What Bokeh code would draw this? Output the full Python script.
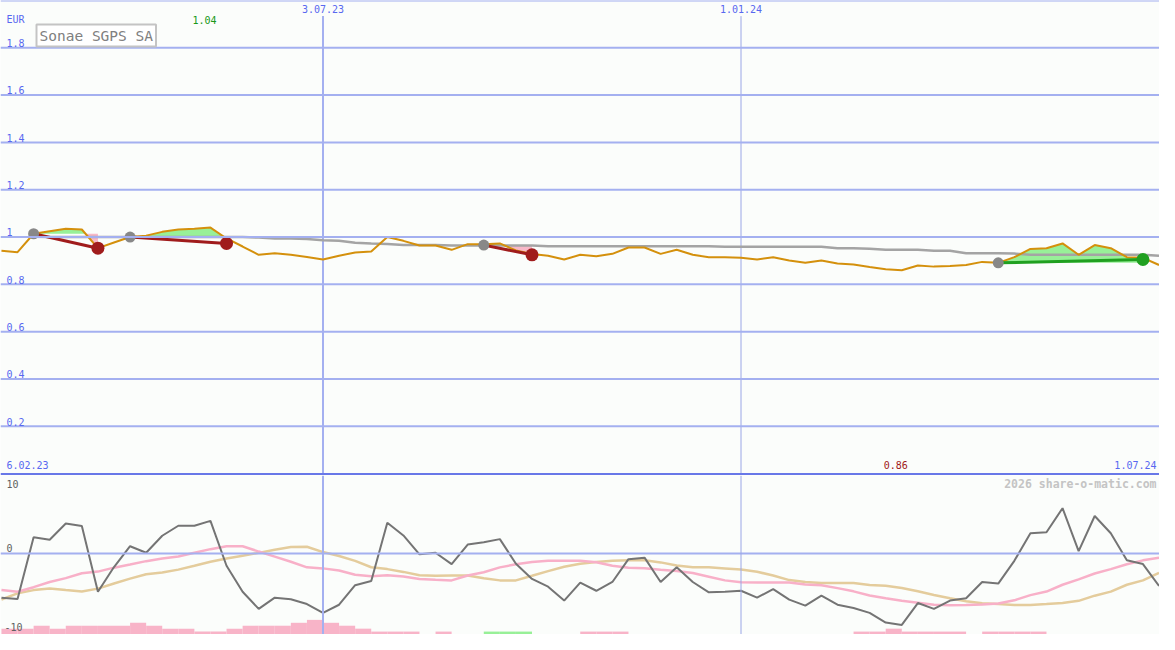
import numpy as np
import pandas as pd
from bokeh.plotting import figure
from bokeh.layouts import column
from bokeh.models import Range1d, Span, Label
from bokeh.embed import file_html
from bokeh.resources import INLINE

# ---------------- data ----------------
weeks = pd.date_range("2023-02-13", periods=73, freq="7D")

price = [0.942, 0.936, 1.014, 1.025, 1.035, 1.032, 0.953, 0.977, 1.000, 1.006,
         1.022, 1.032, 1.035, 1.040, 0.994, 0.960, 0.925, 0.932, 0.925, 0.916,
         0.905, 0.921, 0.935, 0.939, 1.000, 0.984, 0.964, 0.964, 0.946, 0.970,
         0.970, 0.973, 0.943, 0.928, 0.921, 0.905, 0.925, 0.919, 0.929, 0.956,
         0.956, 0.929, 0.946, 0.925, 0.915, 0.915, 0.913, 0.905, 0.915, 0.901,
         0.891, 0.901, 0.888, 0.884, 0.873, 0.864, 0.860, 0.880, 0.875, 0.878,
         0.882, 0.895, 0.891, 0.915, 0.950, 0.953, 0.973, 0.925, 0.966, 0.953,
         0.915, 0.912, 0.882]

# long moving average, starts at week index 2
ma_long = [1.001, 1.0, 1.0, 1.0, 1.0, 1.0, 1.0, 1.0, 1.0, 1.0, 1.0, 1.0, 1.0, 1.0,
           0.998, 0.994, 0.994, 0.992, 0.987, 0.984, 0.976, 0.973, 0.971, 0.966,
           0.966, 0.966, 0.964, 0.964, 0.964, 0.964, 0.964, 0.964,
           0.961, 0.961, 0.961, 0.961, 0.961, 0.961, 0.961, 0.961, 0.961, 0.961, 0.961,
           0.959, 0.959, 0.959, 0.959, 0.959, 0.959, 0.959,
           0.953, 0.953, 0.951, 0.946, 0.946, 0.946, 0.942, 0.942, 0.932, 0.932,
           0.932, 0.930, 0.925, 0.925, 0.925, 0.925, 0.925, 0.925, 0.925, 0.925,
           0.921]

# trades
entry_idx = [2, 8, 30, 62]
exit_idx = [6, 14, 33, 71]
entry_val = [1.014, 1.000, 0.966, 0.891]
exit_val = [0.953, 0.973, 0.925, 0.905]

# lower panel
momentum = [-6.03, -6.2, 2.24, 1.89, 4.11, 3.76, -5.23, -1.85, 1.0, 0.11,
            2.43, 3.8, 3.8, 4.47, -1.67, -5.23, -7.57, -6.03, -6.24, -6.91,
            -8.11, -7.0, -4.33, -3.76, 4.2, 2.47, -0.11, 0.11, -1.44, 1.23,
            1.53, 1.97, -1.4, -3.47, -4.53, -6.43, -3.97, -5.09, -3.89, -0.77,
            -0.56, -3.89, -1.89, -3.89, -5.31, -5.23, -5.09, -6.03, -4.87, -6.3,
            -7.13, -5.76, -7.0, -7.44, -8.11, -9.44, -9.76, -6.77, -7.57, -6.43,
            -6.11, -3.89, -4.11, -1.0, 2.77, 2.91, 6.2, 0.33, 5.13, 2.77,
            -0.91, -1.44, -4.43]

sig_pink = [-5.0, -5.23, -4.6, -3.89, -3.36, -2.69, -2.47, -1.93, -1.49, -1.04,
            -0.69, -0.4, 0.11, 0.6, 1.0, 1.0, 0.27, -0.43, -1.13, -1.89,
            -2.03, -2.33, -2.91, -3.09, -2.96, -3.13, -3.47, -3.6, -3.67, -3.0,
            -2.56, -1.89, -1.47, -1.16, -1.0, -1.0, -1.0, -1.19, -1.67, -1.93,
            -2.0, -2.23, -2.4, -2.67, -3.17, -3.67, -3.93, -3.97, -3.97, -3.97,
            -4.24, -4.33, -4.73, -5.17, -5.73, -6.12, -6.47, -6.73, -7.0, -7.07,
            -7.04, -6.96, -6.84, -6.4, -5.69, -5.2, -4.27, -3.53, -2.73, -2.13,
            -1.47, -0.93, -0.56]

sig_tan = [-6.29, -5.44, -5.0, -4.77, -5.0, -5.2, -4.8, -4.09, -3.43, -2.84,
           -2.6, -2.2, -1.67, -1.13, -0.67, -0.29, 0.09, 0.53, 0.89, 0.93,
           0.2, -0.33, -1.0, -1.87, -2.13, -2.51, -2.96, -3.04, -3.0, -3.0,
           -3.37, -3.67, -3.67, -3.04, -2.4, -1.8, -1.4, -1.17, -1.0, -0.93,
           -0.92, -1.21, -1.63, -1.89, -1.89, -2.04, -2.19, -2.49, -3.0, -3.63,
           -3.89, -4.03, -4.03, -4.03, -4.31, -4.41, -4.72, -5.16, -5.67, -6.11,
           -6.51, -6.81, -6.91, -7.03, -7.04, -6.91, -6.77, -6.47, -5.76, -5.21,
           -4.27, -3.67, -2.64]

# weekly bars at the bottom (height levels), one per week interval
bar_level = [2, 2, 3, 2, 3, 3, 3, 3, 4, 3, 2, 2, 1, 1, 2, 3, 3, 3, 4, 5,
             4, 3, 2, 1, 1, 1, 0, 1, 0, 0, 1, 1, 1, 0, 0, 0, 1, 1, 1,
             0, 0, 0, 0, 0, 0, 0, 0, 0, 0, 0, 0, 0, 0,
             1, 1, 2, 1, 1, 1, 1, 0, 1, 1, 1, 1,
             0, 0, 0, 0, 0, 0, 0]
green_bars = [30, 31, 32]

y_ticks = [0.2, 0.4, 0.6, 0.8, 1.0, 1.2, 1.4, 1.6, 1.8]
y_tick_labels = ["0.2", "0.4", "0.6", "0.8", "1", "1.2", "1.4", "1.6", "1.8"]
x_marks = [pd.Timestamp("2023-07-03"), pd.Timestamp("2024-01-01")]
x_mark_labels = ["3.07.23", "1.01.24"]
lo_ticks = [10, 0, -10]
lo_tick_labels = ["10", "0", "-10"]
title = "Sonae SGPS SA"
start_label = "6.02.23"
end_label = "1.07.24"
credit = "2026 share-o-matic.com"

# ---------------- styling ----------------
W, H = 1159, 634
H_TOP = 475
H_BOT = H - H_TOP
BG = "#fbfdfb"
FONT = "DejaVu Sans Mono"
BLUE_TXT = "#5868f0"
GRID = "#a4b0f0"


def ms(ts):
    return pd.Timestamp(ts).value / 1e6


wk_ms = np.array([ms(t) for t in weeks])
x_start = ms(weeks[0]) - 10 * 3600e3
x_end = ms("2024-07-01") + 5 * 3600e3
xr = Range1d(x_start, x_end)

TOP_Y0, TOP_Y1 = -0.008, 2.0
BOT_Y0, BOT_Y1 = -11.07, 10.67


def make_fig(h, y0, y1):
    p = figure(width=W, height=h, x_axis_type="datetime", x_range=xr,
               y_range=Range1d(y0, y1), output_backend="svg",
               toolbar_location=None, min_border=0,
               background_fill_color=BG, border_fill_color=BG,
               outline_line_color=None)
    p.axis.visible = False
    p.grid.visible = False
    return p


def lab(p, x, y, text, color, size="10px", align="left", base="middle",
        xoff=0, style="normal"):
    p.add_layout(Label(x=x, y=y, text=text, text_color=color,
                       text_font=FONT, text_font_size=size, text_align=align,
                       text_baseline=base, x_offset=xoff,
                       text_font_style=style))


# ---------------- top panel ----------------
top = make_fig(H_TOP, TOP_Y0, TOP_Y1)

for v in y_ticks:
    top.add_layout(Span(location=v, dimension="width", line_color=GRID,
                        line_width=2))
top.add_layout(Span(location=TOP_Y1, dimension="width", line_color=GRID,
                    line_width=2))
top.add_layout(Span(location=-0.003, dimension="width", line_color="#6878e8",
                    line_width=2.5))

vx = [ms(t) for t in x_marks]
top.segment(x0=[vx[0]], y0=[1.934], x1=[vx[0]], y1=[TOP_Y0], line_color=GRID,
            line_width=2)
top.segment(x0=[vx[1]], y0=[1.934], x1=[vx[1]], y1=[TOP_Y0],
            line_color="#9aa6e6", line_width=1)

# trade fills
for i, j, e in zip(entry_idx, exit_idx, entry_val):
    xs = list(wk_ms[i:j + 1])
    ys = list(price[i:j + 1])
    X, Y = [xs[0]], [ys[0]]
    for k in range(1, len(xs)):
        a, b = ys[k - 1] - e, ys[k] - e
        if a * b < 0:
            t = a / (a - b)
            X.append(xs[k - 1] + t * (xs[k] - xs[k - 1]))
            Y.append(e)
        X.append(xs[k])
        Y.append(ys[k])
    X = np.array(X)
    Y = np.array(Y)
    top.varea(x=X, y1=np.full(len(X), e), y2=np.maximum(Y, e),
              fill_color="#98f098")
    top.varea(x=X, y1=np.minimum(Y, e), y2=np.full(len(X), e),
              fill_color="#f8b8c8")

top.line(wk_ms[2:], ma_long, line_color="#a4a4a4", line_width=2.5)
top.line(wk_ms, price, line_color="#d4900c", line_width=2)

ex_e = [wk_ms[i] for i in entry_idx]
ex_x = [wk_ms[i] for i in exit_idx]
tcol = ["#20a020" if b > a else "#a01c1c" for a, b in zip(entry_val, exit_val)]
top.segment(x0=ex_e, y0=entry_val, x1=ex_x, y1=exit_val, line_color=tcol,
            line_width=3)
top.scatter(ex_e, entry_val, size=11, fill_color="#888888", line_color=None)
top.scatter(ex_x, exit_val, size=13, fill_color=tcol, line_color=None)

# texts
lab(top, x_start, 1.92, "EUR", BLUE_TXT, xoff=6)
for v, t in zip(y_ticks, y_tick_labels):
    lab(top, x_start, v + 0.003, t, BLUE_TXT, base="bottom", xoff=6)
for x, t in zip(vx, x_mark_labels):
    lab(top, x, 1.963, t, BLUE_TXT, align="center")
imax = int(np.argmax(price))
imin = int(np.argmin(price))
lab(top, wk_ms[imax], 1.918, f"{price[imax]:.2f}", "#189818", align="center",
    xoff=-6)
lab(top, wk_ms[imin], 0.037, f"{price[imin]:.2f}", "#a01818", align="center",
    xoff=-6)
lab(top, x_start, 0.037, start_label, BLUE_TXT, xoff=6)
lab(top, x_end, 0.037, end_label, BLUE_TXT, align="right", xoff=-3)
top.add_layout(Label(x=x_start, y=1.852, x_offset=36, text=title,
                     text_color="#808080", text_font=FONT,
                     text_font_size="14.5px", text_baseline="middle",
                     background_fill_color="#ffffff",
                     border_line_color="#c4c4c4", border_line_width=2,
                     padding=3))

# ---------------- bottom panel ----------------
bot = make_fig(H_BOT, BOT_Y0, BOT_Y1)
bot.add_layout(Span(location=0, dimension="width", line_color=GRID,
                    line_width=2))
bot.add_layout(Span(location=vx[0], dimension="height", line_color=GRID,
                    line_width=2))
bot.add_layout(Span(location=vx[1], dimension="height", line_color="#9aa6e6",
                    line_width=1))

lvl = np.array(bar_level, dtype=float)
bcol = ["#98f098" if k in green_bars else "#f8b4c8" for k in range(len(lvl))]
bot.quad(left=wk_ms[:-1], right=wk_ms[1:], bottom=BOT_Y0,
         top=BOT_Y0 + lvl * 0.4, fill_color=bcol, line_color=None)

bot.line(wk_ms, sig_tan, line_color="#e4cc9c", line_width=2.5)
bot.line(wk_ms, sig_pink, line_color="#f8b0c8", line_width=2.5)
bot.line(wk_ms, momentum, line_color="#747474", line_width=2)

for v, t, yy in zip(lo_ticks, lo_tick_labels, [9.53, 0.73, -10.07]):
    lab(bot, x_start, yy, t, "#606060", xoff=6 if t != "-10" else 4)
lab(bot, x_end, 9.53, credit, "#c4c4c4", size="11.5px", align="right",
    xoff=-3, style="bold")

layout = column(top, bot, spacing=0)
open("out.html", "w").write(file_html(layout, INLINE))
